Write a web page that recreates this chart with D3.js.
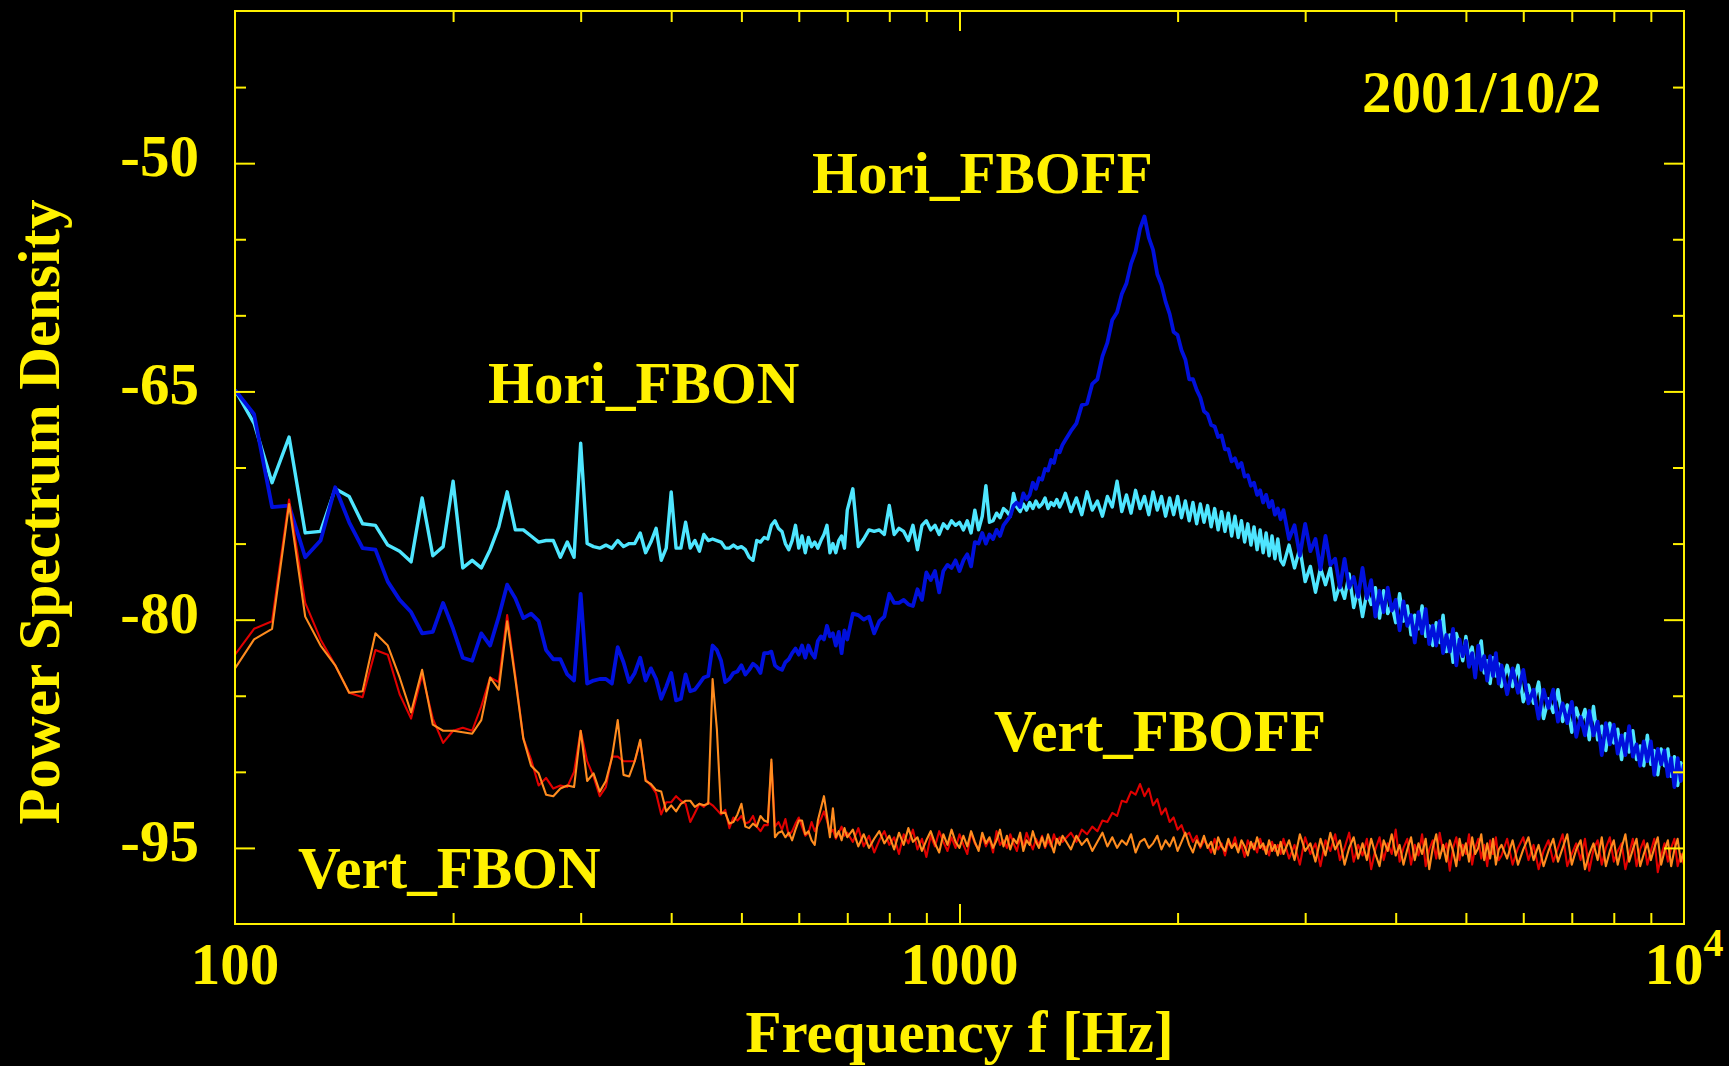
<!DOCTYPE html>
<html>
<head>
<meta charset="utf-8">
<script src="https://cdn.jsdelivr.net/npm/d3@7"></script>
<style>
  body { margin: 0; background: #000; }
  svg { display: block; }
</style>
</head>
<body>
<script>
//Width and height
var w = 1729;
var h = 1066;

//Plot box
var boxL = 235, boxR = 1684, boxT = 11, boxB = 924;

//FFT bin frequencies (Hz): full 6.25 Hz bins at low f, every 2nd/4th/8th/16th bin above
var freq = [].concat(
    d3.range(100, 700, 6.25),
    d3.range(700, 1400, 12.5),
    d3.range(1400, 2800, 25),
    d3.range(2800, 5600, 50),
    d3.range(5600, 10001, 100)
);

//Hori_FBON (cyan)
var horiOn = [
    // 100 - 693.75 Hz
    -64.9, -67.1, -71.0, -68.0, -74.3, -74.2, -71.4, -71.9,
    -73.7, -73.8, -75.1, -75.5, -76.2, -72.0, -75.8, -75.2,
    -70.9, -76.6, -76.1, -76.6, -75.4, -73.9, -71.6, -74.1,
    -74.1, -74.5, -74.9, -74.8, -74.8, -75.9, -74.9, -75.9,
    -68.4, -75.0, -75.2, -75.3, -75.1, -75.3, -74.8, -75.2,
    -75.0, -75.0, -74.3, -75.6, -74.9, -74.0, -76.1, -75.3,
    -71.6, -75.3, -75.3, -73.6, -75.3, -74.8, -75.5, -74.4,
    -74.8, -74.7, -74.8, -74.9, -75.3, -75.3, -75.1, -75.3,
    -75.2, -75.4, -75.9, -76.1, -74.8, -74.9, -74.6, -74.7,
    -73.8, -73.5, -74.0, -74.2, -75.0, -75.4, -74.8, -73.8,
    -75.3, -74.5, -75.6, -74.6, -75.2, -74.9, -75.3, -74.8,
    -74.4, -73.8, -75.6, -75.0, -75.6, -74.8, -74.5, -75.3,
    // 700 - 1387.5 Hz
    -72.8, -71.4, -75.2, -74.7, -74.1, -74.2, -74.1, -74.4,
    -72.5, -74.4, -74.0, -74.2, -74.8, -73.8, -75.4, -73.8,
    -73.5, -74.1, -73.8, -74.4, -73.7, -74.0, -73.5, -73.8,
    -73.6, -74.1, -73.5, -74.3, -72.8, -74.1, -73.2, -71.2,
    -73.6, -73.5, -73.0, -73.3, -72.7, -72.9, -73.2, -71.7,
    -72.6, -72.9, -72.4, -72.8, -72.3, -72.7, -72.2, -72.6,
    -72.4, -72.0, -72.7, -72.3, -72.5, -72.1, -72.6, -72.2,
    // 1400 - 2775 Hz
    -71.7, -72.9, -72.0, -73.1, -71.6, -72.8, -72.2, -73.2,
    -71.9, -72.6, -70.9, -72.9, -71.8, -73.0, -71.5, -72.7,
    -71.9, -73.1, -71.6, -72.8, -71.9, -73.2, -72.0, -73.1,
    -71.9, -73.3, -72.2, -73.5, -72.3, -73.7, -72.4, -73.6,
    -72.5, -73.9, -72.7, -74.1, -72.9, -74.2, -73.0, -74.5,
    -73.2, -74.6, -73.5, -74.9, -73.7, -75.1, -73.9, -75.4,
    -74.1, -75.6, -74.3, -75.8, -74.5, -76.0, -74.7, -76.1,
    // 2800 - 5550 Hz
    -76.4, -75.1, -76.6, -75.3, -77.5, -76.5, -78.2, -76.6,
    -77.7, -76.6, -78.7, -77.7, -78.6, -77.0, -79.2, -78.0,
    -79.8, -78.2, -79.0, -77.9, -79.9, -78.1, -79.6, -79.0,
    -80.2, -78.3, -80.1, -79.1, -81.0, -79.7, -80.6, -79.1,
    -81.1, -80.4, -81.7, -80.2, -81.5, -79.7, -82.1, -81.0,
    -82.8, -80.9, -81.7, -82.7, -81.1, -82.5, -81.8, -83.4,
    -82.2, -81.4, -83.5, -82.7, -84.2, -82.5, -83.7, -82.9,
    // 5600 - 10000 Hz
    -84.4, -83.0, -84.4, -83.0, -85.4, -84.3, -85.5, -84.1, -86.5,
    -85.2, -86.1, -84.6, -86.7, -85.6, -87.4, -85.8, -86.8, -85.9,
    -87.9, -85.7, -87.9, -87.0, -88.6, -86.8, -88.1, -87.2, -89.2,
    -87.5, -88.7, -87.3, -89.2, -88.3, -89.6, -87.6, -89.5, -88.6,
    -90.2, -88.5, -89.6, -88.5, -90.3, -89.0, -90.9, -89.4, -90.4
];

//Hori_FBOFF (blue)
var horiOff = [
    // 100 - 693.75 Hz
    -64.9, -66.5, -72.6, -72.5, -75.9, -74.8, -71.3, -73.6,
    -75.3, -75.4, -77.5, -78.7, -79.5, -80.9, -80.8, -78.9,
    -80.6, -82.5, -82.7, -80.9, -81.7, -79.8, -77.7, -78.6,
    -79.9, -79.6, -80.1, -82.0, -82.6, -82.6, -83.6, -84.0,
    -78.3, -84.2, -84.0, -83.9, -83.9, -84.2, -81.8, -82.8,
    -84.1, -83.5, -82.5, -84.0, -83.2, -83.9, -85.2, -84.4,
    -83.5, -85.3, -85.2, -83.6, -84.7, -84.6, -84.2, -83.8,
    -83.7, -81.7, -82.0, -82.7, -84.1, -83.9, -83.5, -83.4,
    -83.0, -83.6, -83.3, -82.9, -83.1, -83.5, -82.2, -82.2,
    -82.1, -83.0, -83.2, -83.3, -82.8, -82.6, -82.2, -81.9,
    -82.3, -81.7, -82.5, -81.7, -82.2, -82.5, -81.4, -81.1,
    -81.3, -80.4, -81.1, -80.9, -81.7, -80.8, -82.2, -80.7,
    // 700 - 1387.5 Hz
    -81.3, -79.6, -79.7, -80.0, -79.8, -80.9, -80.1, -79.8,
    -78.3, -78.9, -78.9, -78.7, -79.0, -79.1, -78.0, -78.7,
    -76.9, -77.4, -76.8, -78.2, -76.8, -76.4, -76.6, -76.1,
    -76.8, -76.1, -75.7, -76.5, -74.9, -75.0, -74.3, -75.0,
    -74.4, -74.7, -74.1, -74.5, -73.8, -73.5, -73.2, -72.5,
    -72.3, -72.6, -71.7, -72.1, -71.8, -71.0, -71.4, -70.7,
    -70.8, -70.1, -70.2, -69.5, -69.7, -68.9, -69.0, -68.5,
    // 1400 - 2775 Hz
    -68.2, -67.6, -67.1, -65.9, -65.8, -64.5, -64.2, -62.7,
    -61.8, -60.3, -59.8, -58.6, -57.9, -56.6, -55.8, -54.3,
    -53.5, -54.9, -55.7, -57.3, -58.0, -59.1, -59.9, -61.1,
    -61.3, -62.3, -62.9, -64.2, -64.2, -64.9, -65.4, -66.3,
    -66.5, -67.2, -67.3, -68.0, -67.9, -68.8, -68.8, -69.6,
    -69.4, -70.0, -69.7, -70.6, -70.5, -71.2, -71.0, -71.8,
    -71.5, -72.3, -71.8, -72.6, -72.2, -73.1, -72.7, -73.4,
    // 2800 - 5550 Hz
    -72.8, -74.7, -73.8, -75.8, -73.7, -75.5, -74.7, -76.7,
    -74.5, -76.4, -76.0, -77.9, -76.0, -77.9, -77.2, -78.5,
    -76.6, -78.6, -77.4, -79.8, -78.1, -79.5, -77.9, -79.4,
    -78.7, -80.7, -78.8, -80.4, -79.7, -81.5, -79.5, -80.9,
    -79.3, -81.6, -80.4, -81.7, -80.1, -82.2, -81.0, -82.1,
    -80.6, -83.0, -81.3, -82.4, -81.4, -83.1, -82.2, -83.8,
    -81.7, -83.3, -82.4, -84.0, -82.4, -83.7, -82.2, -84.2,
    // 5600 - 10000 Hz
    -83.0, -84.9, -83.2, -84.8, -83.3, -85.5, -84.6, -86.5, -84.6,
    -85.8, -84.6, -86.7, -85.5, -86.8, -85.4, -87.7, -86.4, -87.6,
    -86.0, -87.6, -86.7, -88.9, -86.8, -88.2, -86.9, -88.8, -87.6,
    -88.9, -87.0, -89.0, -88.2, -89.6, -88.0, -89.3, -88.0, -90.2,
    -88.5, -89.5, -88.6, -90.3, -89.1, -91.0, -89.1, -90.6, -89.5
];

//Vert_FBOFF (red)
var vertOff = [
    // 100 - 693.75 Hz
    -82.3, -80.6, -80.1, -72.1, -78.9, -81.3, -83.0, -84.8,
    -85.1, -82.0, -82.3, -84.9, -86.5, -83.6, -86.5, -88.1,
    -87.3, -87.1, -87.3, -85.7, -83.8, -84.1, -79.7, -83.7,
    -87.8, -89.2, -90.9, -90.4, -91.1, -90.9, -91.0, -90.0,
    -87.3, -89.3, -90.3, -91.6, -91.0, -89.0, -89.0, -89.3,
    -89.3, -89.3, -88.0, -90.5, -90.9, -91.4, -92.8, -92.0,
    -92.0, -91.6, -91.9, -92.1, -93.3, -92.7, -92.1, -92.3,
    -92.0, -92.2, -92.5, -92.8, -92.5, -93.7, -93.0, -93.2,
    -92.9, -93.4, -93.3, -92.9, -93.6, -93.9, -93.5, -93.5,
    -89.4, -93.6, -93.3, -93.8, -93.1, -94.2, -93.9, -93.4,
    -93.0, -93.6, -94.2, -94.0, -93.3, -93.9, -93.5, -93.1,
    -92.6, -93.2, -94.0, -93.8, -94.4, -94.0, -93.6, -94.2,
    // 700 - 1387.5 Hz
    -94.0, -94.6, -93.7, -94.9, -94.2, -95.3, -94.5, -93.9,
    -94.8, -94.3, -95.4, -94.1, -94.7, -93.8, -95.1, -94.4,
    -95.6, -94.2, -94.9, -93.9, -94.6, -95.2, -94.3, -95.0,
    -94.1, -94.8, -95.4, -94.0, -94.7, -95.1, -94.2, -94.9,
    -94.4, -95.3, -93.9, -94.8, -94.5, -95.0, -94.1, -94.7,
    -95.2, -94.3, -94.9, -94.0, -94.6, -95.1, -94.4, -94.8,
    -94.2, -95.0, -94.5, -94.9, -94.1, -94.7, -94.3, -94.6,
    // 1400 - 2775 Hz
    -94.4, -94.0, -94.6, -93.8, -94.1, -93.6, -93.9, -93.2,
    -93.3, -92.7, -92.9, -91.9, -92.0, -91.3, -91.5, -90.8,
    -91.6, -91.1, -92.2, -91.8, -92.8, -92.4, -93.3, -93.0,
    -93.8, -93.5, -94.2, -94.0, -94.6, -94.2, -95.0, -94.5,
    -94.8, -95.3, -94.4, -95.1, -94.7, -95.5, -94.6, -95.0,
    -94.3, -95.2, -94.8, -95.6, -94.5, -95.0, -94.7, -95.3,
    -94.4, -95.1, -94.9, -95.5, -94.6, -95.2, -94.8, -95.4,
    // 2800 - 5550 Hz
    -94.4, -95.7, -94.8, -96.1, -94.3, -95.4, -94.7, -96.2,
    -94.5, -95.2, -94.1, -95.8, -95.0, -94.0, -95.9, -94.8,
    -95.5, -94.4, -96.4, -95.1, -94.3, -95.8, -94.7, -95.4,
    -93.8, -95.9, -95.0, -94.4, -96.1, -94.8, -95.5, -94.1,
    -96.2, -95.1, -94.5, -95.7, -94.0, -95.2, -94.7, -96.5,
    -95.0, -94.3, -95.8, -94.8, -95.4, -94.1, -96.1, -95.0,
    -94.4, -95.7, -94.8, -96.2, -94.5, -95.4, -94.3, -95.8,
    // 5600 - 10000 Hz
    -95.5, -94.4, -96.1, -95.0, -94.3, -95.8, -94.8, -96.4, -95.2,
    -94.5, -95.9, -95.0, -94.1, -96.2, -95.4, -94.7, -95.8, -94.4,
    -96.5, -95.1, -94.5, -96.1, -95.0, -94.3, -95.9, -95.2, -94.7,
    -96.4, -95.4, -94.4, -96.2, -95.1, -94.5, -96.1, -95.2, -94.4,
    -96.6, -95.5, -94.7, -95.9, -95.0, -94.4, -96.2, -95.4, -96.1
];

//Vert_FBON (orange)
var vertOn = [
    // 100 - 693.75 Hz
    -83.2, -81.3, -80.6, -72.4, -79.8, -81.7, -83.0, -84.8,
    -84.7, -80.9, -81.7, -83.8, -86.1, -83.3, -86.9, -87.3,
    -87.3, -87.4, -87.5, -86.6, -83.8, -84.6, -80.1, -83.9,
    -87.8, -89.6, -90.1, -91.5, -91.6, -91.1, -90.9, -91.0,
    -87.3, -90.6, -90.1, -91.3, -90.6, -89.1, -86.6, -90.2,
    -90.3, -89.3, -87.9, -90.6, -90.8, -91.2, -91.3, -92.6,
    -92.2, -92.6, -92.1, -91.9, -91.9, -92.3, -92.1, -92.2,
    -92.1, -83.9, -87.2, -92.7, -92.7, -93.4, -93.3, -92.8,
    -92.1, -93.6, -93.7, -93.4, -93.6, -92.9, -93.2, -93.3,
    -89.2, -94.3, -94.0, -93.9, -94.3, -94.0, -94.5, -93.8,
    -93.2, -93.2, -94.1, -93.9, -94.5, -94.8, -93.2, -92.4,
    -91.6, -92.9, -94.3, -92.4, -94.3, -93.9, -94.5, -93.7,
    // 700 - 1387.5 Hz
    -94.3, -93.8, -94.9, -94.1, -95.0, -94.4, -93.9, -94.7,
    -94.2, -95.1, -94.0, -94.8, -93.7, -94.6, -94.3, -95.2,
    -94.5, -93.9, -94.7, -95.3, -94.1, -94.8, -93.8, -94.6,
    -95.0, -94.2, -94.9, -93.9, -94.6, -95.2, -94.0, -94.7,
    -94.3, -95.0, -94.5, -93.8, -94.9, -94.2, -95.1, -94.4,
    -94.7, -94.0, -95.2, -94.5, -94.8, -93.9, -94.6, -95.0,
    -94.3, -94.9, -94.1, -94.7, -95.3, -94.4, -94.8, -94.2,
    // 1400 - 2775 Hz
    -94.5, -95.1, -94.2, -94.8, -94.4, -95.2, -94.6, -94.0,
    -94.9, -94.3, -95.0, -94.5, -94.8, -94.1, -95.3, -94.6,
    -94.4, -95.0, -94.7, -94.2, -95.1, -94.5, -94.9, -94.3,
    -95.2, -94.6, -94.0, -94.8, -95.3, -94.5, -94.9, -94.2,
    -95.0, -94.6, -95.4, -94.3, -94.9, -95.2, -94.4, -95.0,
    -94.7, -95.3, -94.5, -94.9, -95.5, -94.6, -95.1, -94.3,
    -95.0, -94.7, -95.4, -94.5, -95.2, -94.8, -95.5, -94.6,
    // 2800 - 5550 Hz
    -95.4, -94.5, -95.8, -94.1, -95.2, -94.7, -95.9, -94.4,
    -95.5, -94.0, -95.1, -94.5, -96.1, -95.0, -94.3, -95.7,
    -94.7, -95.8, -94.4, -95.4, -96.2, -94.5, -95.2, -94.1,
    -95.5, -94.8, -96.1, -95.1, -94.3, -95.8, -94.7, -95.4,
    -94.4, -96.4, -95.0, -94.1, -95.7, -94.8, -95.9, -94.5,
    -95.2, -96.2, -94.4, -95.5, -94.7, -95.9, -94.3, -95.4,
    -95.0, -94.1, -95.8, -94.7, -95.7, -94.4, -96.1, -95.1,
    // 5600 - 10000 Hz
    -94.8, -95.7, -94.5, -96.1, -95.1, -94.3, -95.8, -94.8, -96.2,
    -95.2, -94.4, -95.9, -95.0, -94.1, -96.1, -95.1, -94.5, -96.4,
    -95.4, -94.7, -95.8, -94.3, -96.2, -95.2, -94.5, -96.1, -95.0,
    -94.1, -95.9, -95.1, -94.4, -96.2, -95.4, -94.7, -95.8, -95.0,
    -94.3, -96.1, -95.2, -94.5, -96.2, -95.1, -94.4, -95.9, -95.2
];

//Tick values and labels
var yMajor = [-50, -65, -80, -95];
var yMinor = [-45, -55, -60, -70, -75, -85, -90];
var xMajor = [1000];
var xMinor = [200, 300, 400, 500, 600, 700, 800, 900, 2000, 3000, 4000, 5000, 6000, 7000, 8000, 9000];
var xLabels = [[100, "100", ""], [1000, "1000", ""], [10000, "10", "4"]];

//Series labels
var series = [
    {name: "Hori_FBON",  values: horiOn,  color: "#4fe6ff", width: 3.4, lx: 488, ly: 403},
    {name: "Hori_FBOFF", values: horiOff, color: "#0010dc", width: 3.8, lx: 812, ly: 193},
    {name: "Vert_FBOFF", values: vertOff, color: "#e00000", width: 2.1, lx: 994, ly: 751},
    {name: "Vert_FBON",  values: vertOn,  color: "#ff8c1f", width: 2.1, lx: 298, ly: 888}
];
var drawOrder = [0, 1, 2, 3];

var yellow = "#fff100";
var font = "'Liberation Serif', 'Times New Roman', serif";

//Scales
var x = d3.scaleLog().domain([100, 10000]).range([boxL, boxR]);
var y = d3.scaleLinear().domain([-100, -40]).range([boxB, boxT]);

//Create SVG element
var svg = d3.select("body")
            .append("svg")
            .attr("width", w)
            .attr("height", h)
            .style("background", "#000");

svg.append("clipPath")
   .attr("id", "plot")
   .append("rect")
   .attr("x", boxL).attr("y", boxT)
   .attr("width", boxR - boxL).attr("height", boxB - boxT);

//Data lines
var line = d3.line()
             .x((d) => x(d[0]))
             .y((d) => y(d[1]));

drawOrder.forEach((i) => {
    var s = series[i];
    svg.append("path")
       .datum(d3.zip(freq, s.values))
       .attr("clip-path", "url(#plot)")
       .attr("fill", "none")
       .attr("stroke", s.color)
       .attr("stroke-width", s.width)
       .attr("stroke-linejoin", "round")
       .attr("d", line);
});

//Axes with inward ticks on all four sides
function styleAxis(g) {
    g.select(".domain").remove();
    g.selectAll("line").attr("stroke", yellow).attr("stroke-width", 2);
}
var axes = [
    [d3.axisTop(x).tickValues(xMinor).tickSize(11), "translate(0," + boxB + ")"],
    [d3.axisTop(x).tickValues(xMajor).tickSize(20), "translate(0," + boxB + ")"],
    [d3.axisBottom(x).tickValues(xMinor).tickSize(11), "translate(0," + boxT + ")"],
    [d3.axisBottom(x).tickValues(xMajor).tickSize(20), "translate(0," + boxT + ")"],
    [d3.axisRight(y).tickValues(yMinor).tickSize(11), "translate(" + boxL + ",0)"],
    [d3.axisRight(y).tickValues(yMajor).tickSize(20), "translate(" + boxL + ",0)"],
    [d3.axisLeft(y).tickValues(yMinor).tickSize(11), "translate(" + boxR + ",0)"],
    [d3.axisLeft(y).tickValues(yMajor).tickSize(20), "translate(" + boxR + ",0)"]
];
axes.forEach((a) => {
    svg.append("g")
       .attr("transform", a[1])
       .call(a[0].tickFormat(""))
       .call(styleAxis);
});

//Frame
svg.append("rect")
   .attr("x", boxL).attr("y", boxT)
   .attr("width", boxR - boxL).attr("height", boxB - boxT)
   .attr("fill", "none")
   .attr("stroke", yellow)
   .attr("stroke-width", 2);

//Text
var text = svg.append("g")
              .attr("fill", yellow)
              .attr("font-family", font)
              .attr("font-weight", "bold")
              .attr("font-size", "59px");

text.selectAll(".ylab")
    .data(yMajor)
    .enter()
    .append("text")
    .attr("x", boxL - 36)
    .attr("y", (d) => y(d) + 13)
    .attr("text-anchor", "end")
    .text((d) => d);

var xl = text.selectAll(".xlab")
    .data(xLabels)
    .enter()
    .append("text")
    .attr("x", (d) => x(d[0]))
    .attr("y", 984)
    .attr("text-anchor", "middle");
xl.append("tspan").text((d) => d[1]);
xl.append("tspan")
  .attr("dy", -28)
  .attr("font-size", "40px")
  .text((d) => d[2]);

text.append("text")
    .attr("x", (boxL + boxR) / 2)
    .attr("y", 1052)
    .attr("text-anchor", "middle")
    .text("Frequency f [Hz]");

text.append("text")
    .attr("transform", "translate(59,512) rotate(-90)")
    .attr("text-anchor", "middle")
    .text("Power Spectrum Density");

text.append("text")
    .attr("x", 1362)
    .attr("y", 112)
    .text("2001/10/2");

text.selectAll(".slab")
    .data(series)
    .enter()
    .append("text")
    .attr("x", (d) => d.lx)
    .attr("y", (d) => d.ly)
    .text((d) => d.name);
</script>
</body>
</html>
